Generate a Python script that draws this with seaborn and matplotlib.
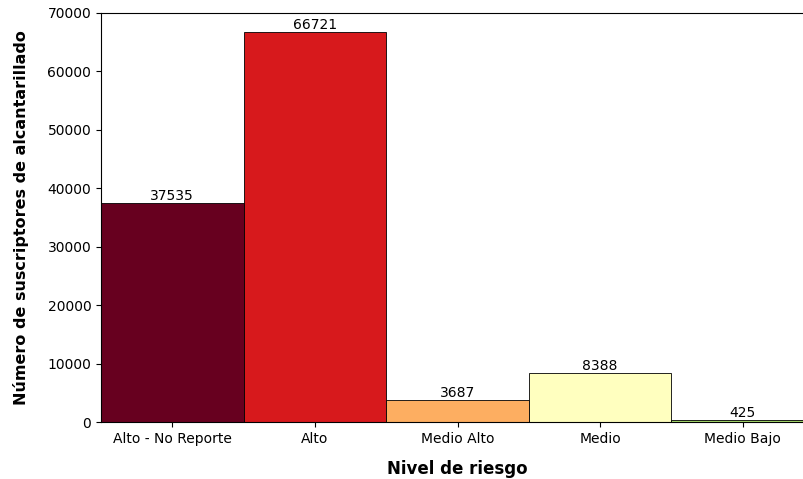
import pandas as pd
import numpy as np
import matplotlib
matplotlib.use('Agg')
import matplotlib.pyplot as plt
import seaborn as sns

# Datos: suscriptores de alcantarillado por nivel de riesgo
niveles = ['Alto - No Reporte', 'Alto', 'Medio Alto', 'Medio', 'Medio Bajo']
suscriptores = [37535, 66721, 3687, 8388, 425]
colores = ['#67001f', '#d7191c', '#fdae61', '#ffffbf', '#a6d96a']

df = pd.DataFrame({'nivel': niveles, 'suscriptores': suscriptores})

plt.rcParams['font.family'] = ['DejaVu Sans']

fig = plt.figure(figsize=(8.04, 4.79), dpi=100)
# el eje se sale un poco por la derecha, como en la imagen original
ax = fig.add_axes([101 / 804, 57 / 479, 713 / 804, 409 / 479])

sns.barplot(data=df, x='nivel', y='suscriptores', hue='nivel', palette=colores,
            saturation=1, width=1, edgecolor='black', linewidth=0.6,
            legend=False, ax=ax)

for i, v in enumerate(suscriptores):
    ax.text(i, v, str(v), ha='center', va='bottom', fontsize=10, color='black')

ax.set_ylim(0, 70000)
ax.set_xlim(-0.5, 4.5)
ax.set_xlabel('Nivel de riesgo', fontsize=12, fontweight='bold', labelpad=10)
ax.set_ylabel('Número de suscriptores de alcantarillado', fontsize=11.5, fontweight='bold', labelpad=13)
ax.tick_params(labelsize=10)

fig.savefig('out.png', dpi=100)
